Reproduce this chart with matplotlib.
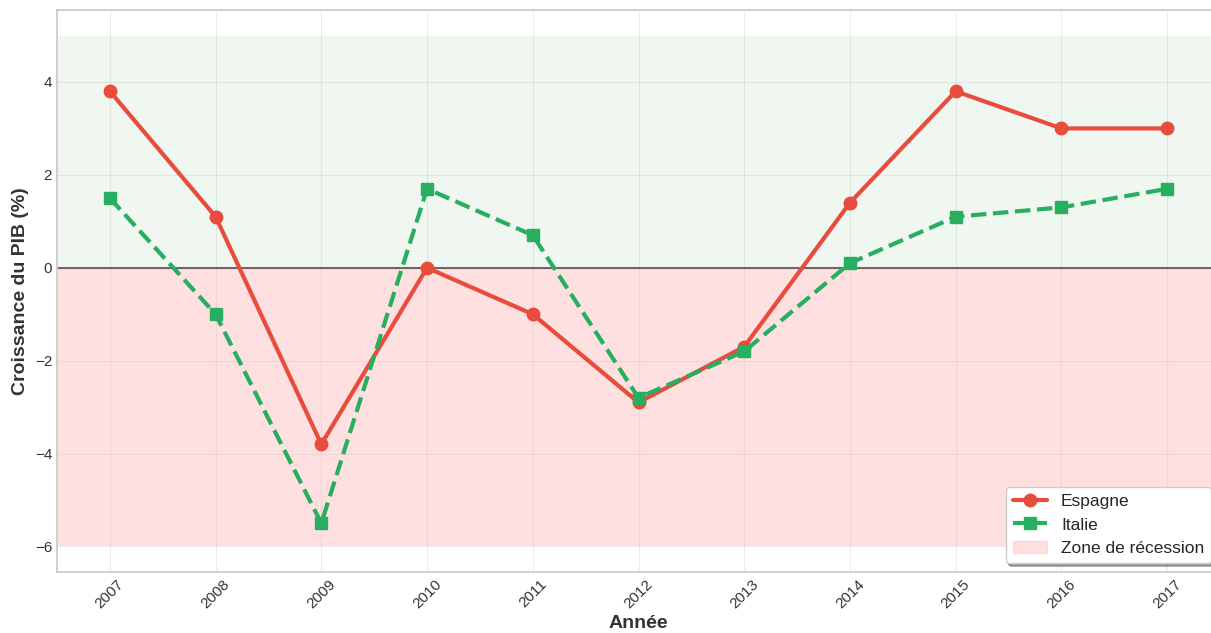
import matplotlib
matplotlib.use("Agg")
import matplotlib.pyplot as plt
from matplotlib.patches import Patch

annees = [2007, 2008, 2009, 2010, 2011, 2012, 2013, 2014, 2015, 2016, 2017]
espagne = [3.8, 1.1, -3.8, 0.0, -1.0, -2.9, -1.7, 1.4, 3.8, 3.0, 3.0]
italie = [1.5, -1.0, -5.5, 1.7, 0.7, -2.8, -1.8, 0.1, 1.1, 1.3, 1.7]

plt.style.use("seaborn-v0_8-whitegrid")
plt.rcParams["font.family"] = ["Liberation Sans", "DejaVu Sans"]

fig = plt.figure(figsize=(12.11, 6.33), dpi=100)
# the original picture is cut on the right, so the axes runs past the edge
ax = fig.add_axes([57 / 1211, 61 / 633, 1163 / 1211, 562 / 633])

ax.axhspan(0, 5, color="green", alpha=0.06, lw=0)
ax.axhspan(-6, 0, color="#ff9999", alpha=0.3, lw=0)
ax.axhline(0, color="black", lw=1.5, alpha=0.55)

ax.plot(annees, espagne, color="#e74c3c", lw=3, marker="o", ms=9, label="Espagne")
ax.plot(annees, italie, color="#27ae60", lw=3, ls="--", marker="s", ms=9, label="Italie")

ax.set_xlim(2006.5, 2017.5)
ax.set_ylim(-6.55, 5.55)
ax.set_xticks(annees)
ax.set_xticklabels([str(a) for a in annees], rotation=45)
ax.set_yticks([-6, -4, -2, 0, 2, 4])
ax.tick_params(labelsize=11, colors="#333333")

ax.grid(True, color="#dddddd", alpha=0.5, lw=0.8)
for s in ax.spines.values():
    s.set_visible(True)
    s.set_color("#cccccc")
    s.set_linewidth(1.3)

ax.set_xlabel("Année", fontsize=14, fontweight="bold", color="#333333", labelpad=3)
ax.set_ylabel("Croissance du PIB (%)", fontsize=14, fontweight="bold", color="#333333")

handles, labels = ax.get_legend_handles_labels()
handles.append(Patch(facecolor="#ff9999", alpha=0.3, edgecolor="#ff9999", label="Zone de récession"))
leg = ax.legend(handles=handles, loc="lower right", fontsize=12.5, frameon=True,
                shadow=True, fancybox=True, borderaxespad=0.5)
leg.get_frame().set_edgecolor("#cccccc")

fig.savefig("out.png", dpi=100)
